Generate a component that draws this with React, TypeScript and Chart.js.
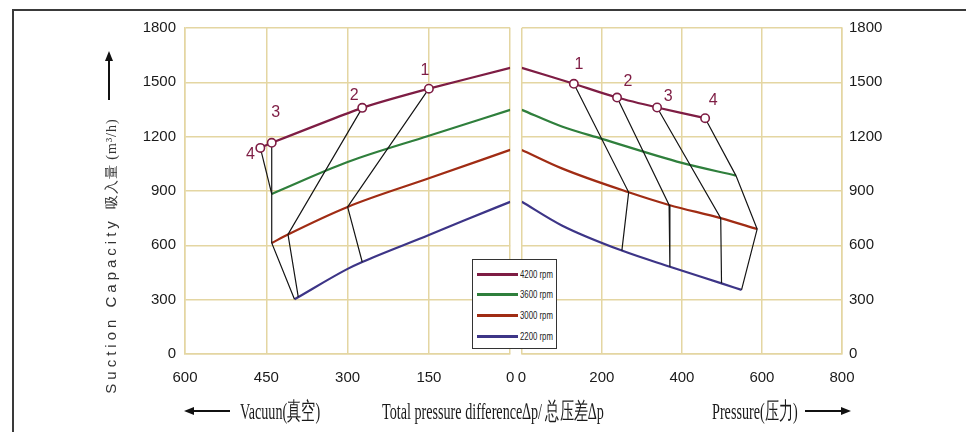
import React, { useEffect, useRef } from "react";
import { Chart, registerables } from "chart.js";
Chart.register(...registerables);

// ---------- DATA ----------
const SERIES_NAMES = ["4200 rpm", "3600 rpm", "3000 rpm", "2200 rpm"];
const SERIES_COLORS = ["#7e1d44", "#2f7f3c", "#a02c14", "#3d3587"];

const Y_TICKS = [0, 300, 600, 900, 1200, 1500, 1800];
const VAC_TICKS = [600, 450, 300, 150, 0];
const PRES_TICKS = [0, 200, 400, 600, 800];

// Vacuum side (x = vacuum, y = suction capacity m3/h)
const vac4200X = [0, 150, 273, 440, 461];
const vac4200Y = [1580, 1465, 1359, 1166, 1138];
const vac4200Num = ["", "1", "2", "3", "4"];
const vac3600X = [0, 150, 300, 440];
const vac3600Y = [1348, 1205, 1060, 884];
const vac3000X = [0, 150, 300, 410, 440];
const vac3000Y = [1127, 970, 812, 660, 613];
const vac2200X = [0, 83, 150, 273, 300, 398];
const vac2200Y = [840, 740, 657, 508, 470, 302];
// operating-point connectors (vacuum)
const vacLink1X = [150, 300, 273];
const vacLink1Y = [1465, 812, 508];
const vacLink2X = [273, 410, 391];
const vacLink2Y = [1359, 660, 314];
const vacLink3X = [440, 440, 440, 398];
const vacLink3Y = [1166, 884, 613, 302];
const vacLink4X = [461, 440];
const vacLink4Y = [1138, 884];

// Pressure side (x = overpressure)
const pres4200X = [0, 130, 238, 338, 458];
const pres4200Y = [1580, 1492, 1416, 1361, 1302];
const pres4200Num = ["", "1", "2", "3", "4"];
const pres3600X = [0, 100, 200, 400, 535];
const pres3600Y = [1348, 1256, 1188, 1055, 985];
const pres3000X = [0, 100, 267, 368, 497, 588];
const pres3000Y = [1127, 1025, 893, 823, 750, 690];
const pres2200X = [0, 100, 250, 370, 499, 549];
const pres2200Y = [841, 710, 571, 482, 390, 354];
const presLink1X = [130, 267, 250];
const presLink1Y = [1492, 893, 571];
const presLink2X = [238, 368, 370];
const presLink2Y = [1416, 823, 482];
const presLink3X = [338, 497, 499];
const presLink3Y = [1361, 750, 390];
const presLink4X = [458, 535, 588, 549];
const presLink4Y = [1302, 985, 690, 354];

// ---------- STYLE ----------
const GRID = "#e4d6a2";
const TICK_FONT = '"Liberation Sans", Arial, sans-serif';
const SERIF = '"Liberation Serif", "Times New Roman", serif';
// pixel offsets of the point numbers relative to their markers
const VAC_NUM_OFFSETS = [[0, 0], [-4, -18], [-8, -12], [4, -30], [-10, 7]];
const PRES_NUM_OFFSETS = [[0, 0], [5, -19], [11, -16], [11, -11], [8, -18]];

const pts = (xs: number[], ys: number[]) => xs.map((x, i) => ({ x, y: ys[i] }));

function curve(xs: number[], ys: number[], color: string, extra: any = {}) {
  return {
    data: pts(xs, ys),
    borderColor: color,
    backgroundColor: color,
    borderWidth: 2.2,
    pointRadius: 0,
    cubicInterpolationMode: "monotone",
    ...extra,
  };
}
function link(xs: number[], ys: number[]) {
  return { data: pts(xs, ys), borderColor: "#151515", borderWidth: 1.2, pointRadius: 0, tension: 0 };
}

function numPlugin(labels: string[], offsets: number[][]) {
  return {
    id: "pointNumbers",
    afterDatasetsDraw(chart: any) {
      const meta = chart.getDatasetMeta(0);
      const ctx = chart.ctx;
      ctx.save();
      ctx.fillStyle = SERIES_COLORS[0];
      ctx.font = `16px ${TICK_FONT}`;
      ctx.textAlign = "center";
      ctx.textBaseline = "middle";
      labels.forEach((lbl, i) => {
        if (!lbl) return;
        const el = meta.data[i];
        ctx.fillText(lbl, el.x + offsets[i][0], el.y + offsets[i][1]);
      });
      ctx.restore();
    },
  };
}

function buildConfig(side: "L" | "R") {
  const isL = side === "L";
  const c4200 = curve(isL ? vac4200X : pres4200X, isL ? vac4200Y : pres4200Y, SERIES_COLORS[0], {
    pointRadius: (isL ? vac4200Num : pres4200Num).map((n) => (n ? 4.2 : 0)),
    pointBorderWidth: 1.6,
    pointBackgroundColor: "#ffffff",
    pointBorderColor: SERIES_COLORS[0],
    tension: 0.15,
    cubicInterpolationMode: "default",
  });
  const links = isL
    ? [link(vacLink1X, vacLink1Y), link(vacLink2X, vacLink2Y), link(vacLink3X, vacLink3Y), link(vacLink4X, vacLink4Y)]
    : [link(presLink1X, presLink1Y), link(presLink2X, presLink2Y), link(presLink3X, presLink3Y), link(presLink4X, presLink4Y)];
  const others = isL
    ? [curve(vac3600X, vac3600Y, SERIES_COLORS[1]), curve(vac3000X, vac3000Y, SERIES_COLORS[2]), curve(vac2200X, vac2200Y, SERIES_COLORS[3])]
    : [curve(pres3600X, pres3600Y, SERIES_COLORS[1]), curve(pres3000X, pres3000Y, SERIES_COLORS[2]), curve(pres2200X, pres2200Y, SERIES_COLORS[3])];
  const xTicks = isL ? VAC_TICKS : PRES_TICKS;
  const tickFont = { family: TICK_FONT, size: 15 };
  return {
    type: "line",
    data: { datasets: [c4200, ...links, ...others] },
    plugins: [numPlugin(isL ? vac4200Num : pres4200Num, isL ? VAC_NUM_OFFSETS : PRES_NUM_OFFSETS)],
    options: {
      responsive: false,
      animation: false,
      layout: { padding: isL ? { left: 135, right: 4, top: 28, bottom: 38 } : { left: 3, right: 74, top: 28, bottom: 38 } },
      plugins: { legend: { display: false }, tooltip: { enabled: false } },
      scales: {
        x: {
          type: "linear",
          min: Math.min(...xTicks),
          max: Math.max(...xTicks),
          reverse: isL,
          afterBuildTicks: (s: any) => { s.ticks = xTicks.map((v) => ({ value: v })); },
          afterFit: (s: any) => { s.height = 40; s.paddingLeft = 0; s.paddingRight = 0; },
          ticks: { padding: 15, color: "#1a1a1a", font: tickFont, callback: (v: any) => String(v) },
          grid: { color: GRID, lineWidth: 1.5, drawTicks: false },
          border: { display: true, color: GRID, width: 1.5 },
        },
        y: {
          type: "linear",
          position: isL ? "left" : "right",
          min: 0,
          max: 1800,
          afterBuildTicks: (s: any) => { s.ticks = Y_TICKS.map((v) => ({ value: v })); },
          afterFit: (s: any) => { s.width = 50; s.paddingTop = 0; s.paddingBottom = 0; },
          ticks: { padding: isL ? 9 : 7, color: "#1a1a1a", font: tickFont, callback: (v: any) => String(v) },
          grid: { color: GRID, lineWidth: 1.5, drawTicks: false },
          border: { display: true, color: GRID, width: 1.5 },
        },
      },
    },
  };
}

function Panel({ side, left, width }: { side: "L" | "R"; left: number; width: number }) {
  const ref = useRef<HTMLCanvasElement>(null);
  useEffect(() => {
    const chart = new Chart(ref.current as HTMLCanvasElement, buildConfig(side) as any);
    return () => chart.destroy();
  }, [side]);
  return (
    <canvas
      ref={ref}
      width={width}
      height={432}
      style={{ position: "absolute", left, top: 0, width, height: 432 }}
    />
  );
}

function Arrow({ x, y, len, dir }: { x: number; y: number; len: number; dir: "left" | "right" | "up" }) {
  const head = 10;
  if (dir === "up") {
    return (
      <div style={{ position: "absolute", left: x - 1, top: y, width: 2, height: len, background: "#111" }}>
        <div style={{ position: "absolute", left: -3, top: -head + 1, width: 0, height: 0, borderLeft: "4px solid transparent", borderRight: "4px solid transparent", borderBottom: `${head}px solid #111` }} />
      </div>
    );
  }
  return (
    <div style={{ position: "absolute", left: x, top: y - 1, width: len, height: 2, background: "#111" }}>
      <div
        style={{
          position: "absolute",
          top: -3,
          [dir === "left" ? "left" : "right"]: -head + 1,
          width: 0,
          height: 0,
          borderTop: "4px solid transparent",
          borderBottom: "4px solid transparent",
          [dir === "left" ? "borderRight" : "borderLeft"]: `${head}px solid #111`,
        } as any}
      />
    </div>
  );
}

function Legend() {
  return (
    <div
      style={{
        position: "absolute",
        left: 472,
        top: 259,
        width: 85,
        height: 90,
        border: "1px solid #333",
        background: "#fff",
        boxSizing: "border-box",
      }}
    >
      {SERIES_NAMES.map((name, i) => (
        <div key={name} style={{ position: "absolute", left: 4, top: 7 + i * 20.7, height: 14, display: "flex", alignItems: "center" }}>
          <div style={{ width: 41, height: 3, background: SERIES_COLORS[i] }} />
          <span style={{ marginLeft: 2, font: `10px ${TICK_FONT}`, color: "#222", whiteSpace: "nowrap", display: "inline-block", transform: "scaleX(0.78)", transformOrigin: "left center" }}>{name}</span>
        </div>
      ))}
    </div>
  );
}

const serifText = (txt: React.ReactNode, left: number, top: number) => (
  <div
    style={{
      position: "absolute",
      left,
      top,
      font: `24px ${SERIF}`,
      lineHeight: "28px",
      color: "#1a1a1a",
      whiteSpace: "nowrap",
      transform: "scaleX(0.59)",
      transformOrigin: "left center",
    }}
  >
    {txt}
  </div>
);

export default function App() {
  return (
    <div style={{ position: "fixed", left: 0, top: 0, width: 966, height: 432, background: "#fff", overflow: "hidden" }}>
      <div style={{ position: "absolute", left: 12, top: 9, right: -5, bottom: -5, borderTop: "2px solid #3a3a3a", borderLeft: "2px solid #3a3a3a" }} />
      <Panel side="L" left={0} width={516} />
      <Panel side="R" left={516} width={450} />
      <Legend />
      {/* y title */}
      <div
        style={{
          position: "absolute",
          left: 111,
          top: 256,
          transform: "translate(-50%, -50%) rotate(-90deg)",
          whiteSpace: "nowrap",
          color: "#333",
        }}
      >
        <span style={{ font: `15px "Liberation Sans", Arial, sans-serif`, letterSpacing: 4 }}>Suction Capacity</span>
        <span style={{ font: `14px ${SERIF}`, letterSpacing: 1, marginLeft: 8 }}>吸入量 (m³/h)</span>
      </div>
      <Arrow x={109} y={60} len={40} dir="up" />
      {/* bottom labels */}
      <Arrow x={193} y={411} len={37} dir="left" />
      {serifText("Vacuun(真空)", 240, 397)}
      {serifText("Total pressure difference∆p/ 总压差∆p", 382, 397)}
      {serifText("Pressure(压力)", 712, 397)}
      <Arrow x={805} y={411} len={37} dir="right" />
    </div>
  );
}
